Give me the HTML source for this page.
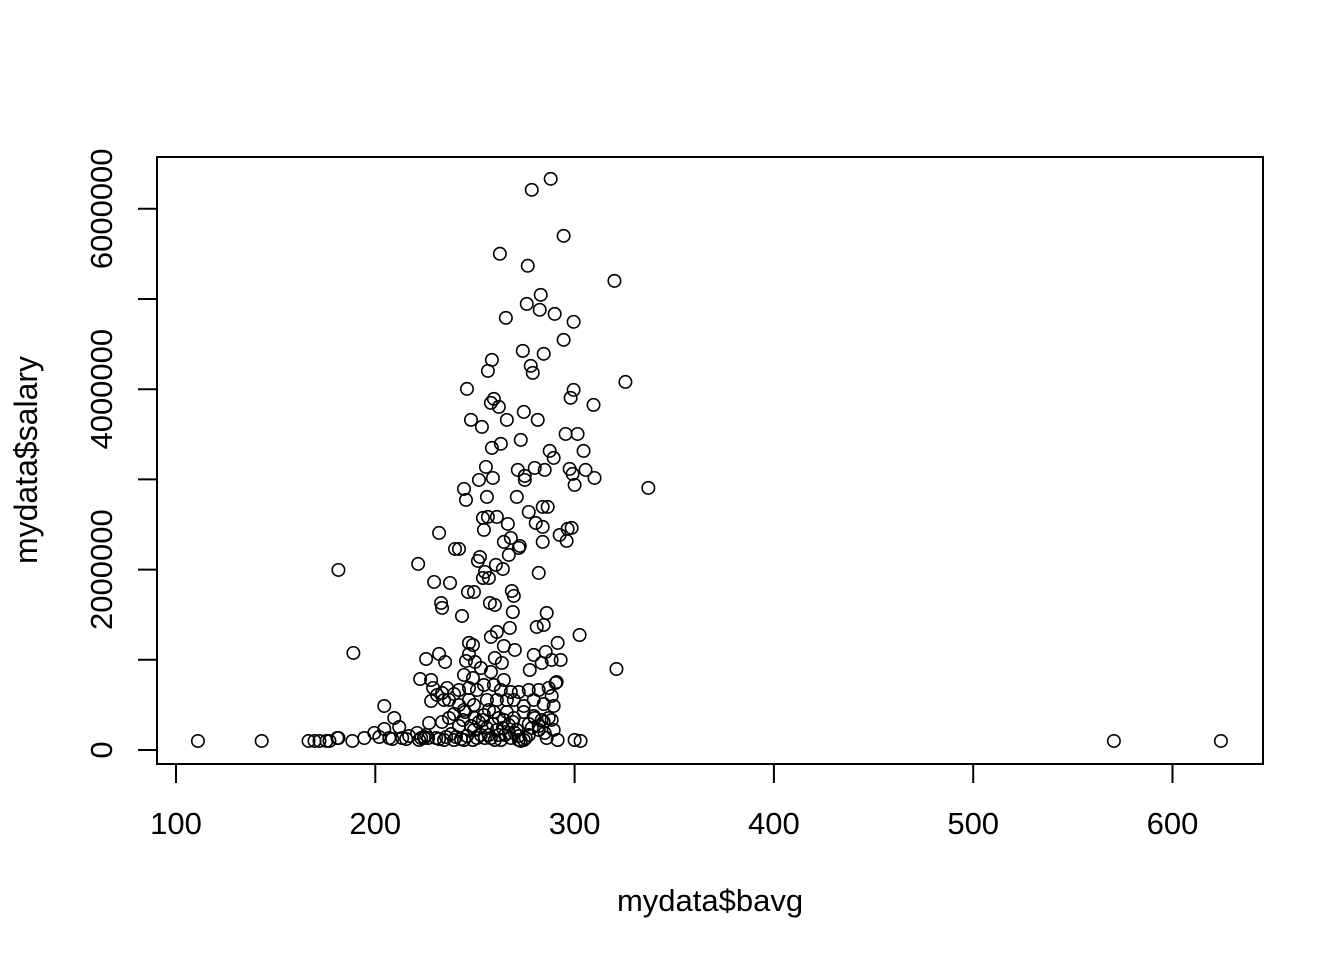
<!DOCTYPE html>
<html><head><meta charset="utf-8"><style>
html,body{margin:0;padding:0;background:#fff;}
svg{display:block;font-family:"Liberation Sans",Arial,sans-serif;}
</style></head><body>
<svg id="chart" width="1344" height="960" viewBox="0 0 1344 960">
<rect x="0" y="0" width="1344" height="960" fill="#fff"/>
<rect x="157" y="157" width="1106" height="607" fill="none" stroke="#000" stroke-width="2"/>
<g id="xaxis"></g>
<g id="yaxis"></g>
<g id="points"></g>
<text x="710" y="911" font-size="31" text-anchor="middle">mydata$bavg</text>
<text transform="translate(37,460) rotate(-90)" font-size="32" text-anchor="middle">mydata$salary</text>
</svg>
<script>
const xTicks = [100, 200, 300, 400, 500, 600];
const yTicks = [0, 1000000, 2000000, 3000000, 4000000, 5000000, 6000000];
const yTickLabels = ["0", "", "2000000", "", "4000000", "", "6000000"];
const bavg = [111,143,166.5,169.5,172,175.5,177,181,181.5,188.5,194.5,199.5,202,204.5,204.5,207,208.5,209.5,212,213.5,215.5,217,221,222,223,224.5,225.5,226.5,227,228,229,230.5,232,233.5,234.5,235.5,236,237,238,239.5,240.5,242,243,244,245,246,247,248,249,250,251,252,253,254,255,256,257,258,259,260,261,262,263,264,265,266,267,268,269,270,271,272,273,274.5,275.5,277,278.5,280,282,283.5,285,287,289.5,291.5,300,303,
181.5,189,221.5,225.5,222.5,228,229.5,232,232,233,233.5,235,237.5,240,242,243.5,244.5,245.5,245.5,246,246.5,247,247,248,249,249.5,250,251.5,252,252.5,253.5,254,254,254.5,255,255.5,256,256.5,256.5,257,257.5,258,258,258.5,258.5,259,259.5,260,260,260.5,261,261,262,262.5,263,263.5,264,264.5,264.5,265.5,266,266.5,267,267.5,268,268.5,269,269.5,270,271,271.5,272,272.5,273,274,274.5,275,275,276,276.5,277,277.5,278,278.5,279,279.5,280,280.5,281,281.5,282,282.5,283,283.5,284,284,284,284.5,284.5,285,285.5,286,286.5,287.5,288,288.5,289.5,290,290.5,291.5,292.5,294.5,294.5,295.5,296,296.5,297.5,298,298.5,299,299.5,299.5,300,301.5,302.5,304.5,305.5,309.5,310,320,321,325.5,337,570.6,624.3,
242,244.5,247,249,251,253,254.5,256,258,259.5,261,263,264.5,266,268,269.5,272,274.5,277,279.5,282,284.5,287,288.5,291,293,231,233.5,237,239.5,242,244.5,249.5,254.5,259.5,264.5,269.5,274.5,279.5,284.5,289.5,224.5,234.5,239.5,244.5,249.5,257,262,267,272,277,282,286,288.5];
const salaryK = [100,100,100,100,100,100,100,133,133,100,133,189,144,233,488,133,122,355,255,133,122,155,189,111,133,144,166,133,300,543,688,133,122,311,555,144,688,355,177,399,144,266,122,333,421,155,555,266,111,355,133,311,166,333,133,244,444,133,288,111,222,355,111,244,166,421,189,133,311,189,222,155,100,111,133,288,244,355,266,333,189,355,488,111,111,100,
1996,1076,2063,1009,787,776,1863,1065,2407,1630,1575,976,1852,2229,2229,1486,2894,2773,987,4003,1752,1187,1065,3660,1164,1752,976,2096,2994,2140,3582,2573,1907,2440,1974,3138,2806,4203,2584,1907,1630,1253,3848,4325,3349,3016,3893,1608,1020,2052,2584,1309,3804,5501,3394,965,2007,1153,2307,4791,3660,2506,2163,1353,2351,1763,1530,1708,1109,2806,3105,2240,2262,3438,4425,3748,3039,2994,4946,5368,2639,887,4259,6210,4181,1054,3127,2517,1364,3660,1963,4880,5046,965,2695,2473,2307,4392,1386,3105,1087,1519,2695,3316,6332,998,3238,4835,743,1187,2384,5700,4547,3504,2318,2451,3116,3904,2462,3061,3992,4747,2939,3504,1275,3316,3105,3826,3016,5201,898,4081,2906,100,100,
665,832,688,798,665,909,721,555,865,721,555,665,776,555,643,555,643,488,665,555,665,510,688,599,754,998,610,632,555,621,499,444,499,388,421,333,355,421,377,311,222,133,111,111,111,222,166,166,277,111,166,222,133,333];

const NS = "http://www.w3.org/2000/svg";
function xs(v){ return 176 + (v - 100) * 1.993; }
function ys(v){ return 750 - v / 1e6 * 90.2; }
function mk(tag, attrs, parent){
  const e = document.createElementNS(NS, tag);
  for (const k in attrs) e.setAttribute(k, attrs[k]);
  parent.appendChild(e);
  return e;
}
const xg = document.getElementById('xaxis');
const yg = document.getElementById('yaxis');
const pg = document.getElementById('points');
const xl = mk('line', {x1: xs(xTicks[0]), x2: xs(xTicks[xTicks.length-1]), y1: 764, y2: 764, stroke: '#000', 'stroke-width': 2}, xg);


xTicks.forEach(t => {
  const l = mk('line', {x1: xs(t), x2: xs(t), y1: 764, y2: 783, stroke: '#000', 'stroke-width': 2}, xg);
  
  
  const tx = mk('text', {x: xs(t), y: 834, 'font-size': 31, 'text-anchor': 'middle'}, xg);
  tx.textContent = String(t);
  
  
});
const yl = mk('line', {x1: 157, x2: 157, y1: ys(yTicks[0]), y2: ys(yTicks[yTicks.length-1]), stroke: '#000', 'stroke-width': 2}, yg);


yTicks.forEach((t, i) => {
  const l = mk('line', {x1: 138, x2: 157, y1: ys(t), y2: ys(t), stroke: '#000', 'stroke-width': 2}, yg);
  
  
  if (yTickLabels[i]) {
    const tx = mk('text', {transform: 'translate(112,' + ys(t) + ') rotate(-90)', 'font-size': 31, 'text-anchor': 'middle'}, yg);
    tx.textContent = yTickLabels[i];
    
    
  }
});
bavg.forEach((b, i) => {
  const c = mk('circle', {cx: xs(b), cy: ys(salaryK[i] * 1000), r: 6.2, fill: 'none', stroke: '#000', 'stroke-width': 1.6}, pg);
  
  
});
</script>
</body></html>
